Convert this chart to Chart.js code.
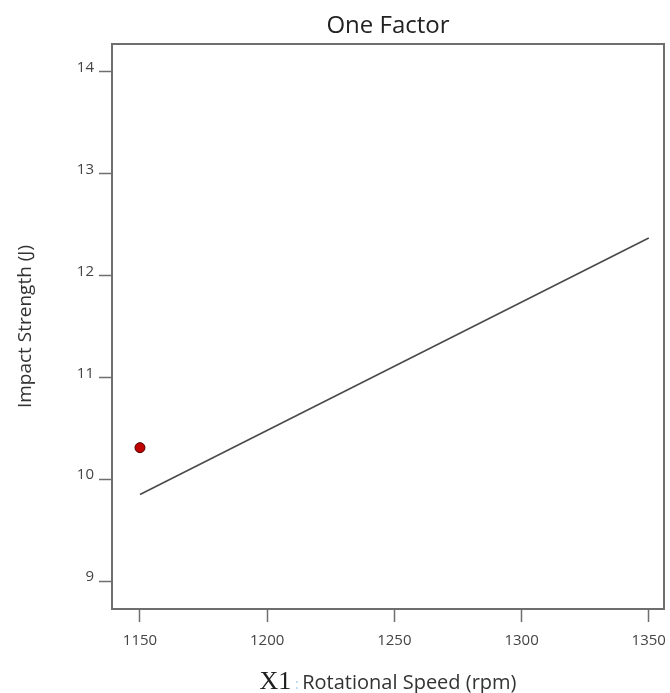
<!DOCTYPE html>
<html>
<head>
<meta charset="utf-8">
<script src="https://cdn.jsdelivr.net/npm/chart.js@4.4.1/dist/chart.umd.min.js"></script>
<style>
    html, body { margin:0; padding:0; background:#fff; overflow:hidden; }
    #wrap { width:670px; height:693px; position:relative; }
</style>
</head>
<body>
<div id="wrap"><canvas id="c" width="670" height="693"></canvas></div>
<script>
// ── Data ──────────────────────────────────────
const fitSpeed    = [1150, 1350];     // rpm
const fitStrength = [9.85, 12.37];    // J, model line
const obsSpeed    = [1150];
const obsStrength = [10.31];          // J, design point
const xTicks      = [1150, 1200, 1250, 1300, 1350];
const yTicks      = [9, 10, 11, 12, 13, 14];

const AXIS_GREY = '#6e6e6e';
const TICK_FONT = { family:'Open Sans', size:15 };

// frame round the plot area
const frame = {
    id: 'frame',
    afterDatasetsDraw(chart) {
        const { ctx, chartArea:a } = chart;
        ctx.save();
        ctx.strokeStyle = AXIS_GREY;
        ctx.lineWidth   = 2;
        ctx.strokeRect(a.left, a.top, a.right - a.left, a.bottom - a.top);
        ctx.restore();
    },
};

// x title: serif "X1", pale colon, then sans label
const xTitle = {
    id: 'xTitle',
    afterDraw(chart) {
        const { ctx, chartArea:a } = chart;
        const parts = [
            { t:'X1',  f:'26px "Liberation Serif"', c:'#1e1e1e' },
            { t:' : ', f:'14px "Open Sans"',        c:'#a8d0ec' },
            { t:'Rotational Speed (rpm)', f:'20px "Open Sans"', c:'#333' },
        ];
        ctx.save();
        let w = 0;
        parts.forEach(p => { ctx.font = p.f; p.w = ctx.measureText(p.t).width; w += p.w; });
        let x = (a.left + a.right) / 2 - w / 2;
        ctx.textBaseline = 'alphabetic';
        parts.forEach(p => {
            ctx.font = p.f; ctx.fillStyle = p.c;
            ctx.fillText(p.t, x, 689);
            x += p.w;
        });
        ctx.restore();
    },
};

new Chart(document.getElementById('c'), {
    type: 'scatter',
    data: {
        datasets: [
            {
                label: 'Fit',
                data: fitSpeed.map((x, i) => ({ x, y: fitStrength[i] })),
                showLine: true,
                borderColor: '#4a4a4a',
                borderWidth: 1.6,
                pointRadius: 0,
            },
            {
                label: 'Observed',
                data: obsSpeed.map((x, i) => ({ x, y: obsStrength[i] })),
                pointRadius: 5,
                backgroundColor: '#c00000',
                borderColor: '#4a0000',
                borderWidth: 1,
            },
        ],
    },
    options: {
        responsive: false,
        animation: false,
        layout: { padding: { right: 1 } },
        plugins: {
            legend:  { display:false },
            tooltip: { enabled:false },
            title: {
                display: true,
                fullSize: false,
                text: 'One Factor',
                color: '#222',
                font: { family:'Open Sans', size:24, weight:'normal' },
                padding: { top:12, bottom:3.2 },
            },
        },
        scales: {
            x: {
                type: 'linear',
                min: 1139, max: 1356,
                afterBuildTicks: s => { s.ticks = xTicks.map(v => ({ value:v })); },
                afterFit: s => { s.height = 84; s.paddingLeft = 0; s.paddingRight = 0; },
                border: { display:false },
                grid: { drawOnChartArea:false, tickLength:13, color:AXIS_GREY, tickWidth:1.5 },
                ticks: { color:'#444', font:TICK_FONT, padding:10, maxRotation:0,
                         callback: v => String(v) },
            },
            y: {
                min: 8.725, max: 14.275,
                afterBuildTicks: s => { s.ticks = yTicks.map(v => ({ value:v })); },
                afterFit: s => { s.width = 112; },
                border: { display:false },
                grid: { drawOnChartArea:false, tickLength:13, color:AXIS_GREY, tickWidth:1.5 },
                ticks: { color:'#444', font:TICK_FONT, padding:5, labelOffset:-4,
                         callback: v => String(v) },
                title: {
                    display: true,
                    text: 'Impact Strength (J)',
                    color: '#333',
                    font: { family:'Open Sans', size:19 },
                    padding: { top:14, bottom:0 },
                },
            },
        },
    },
    plugins: [frame, xTitle],
});
</script>
</body>
</html>
